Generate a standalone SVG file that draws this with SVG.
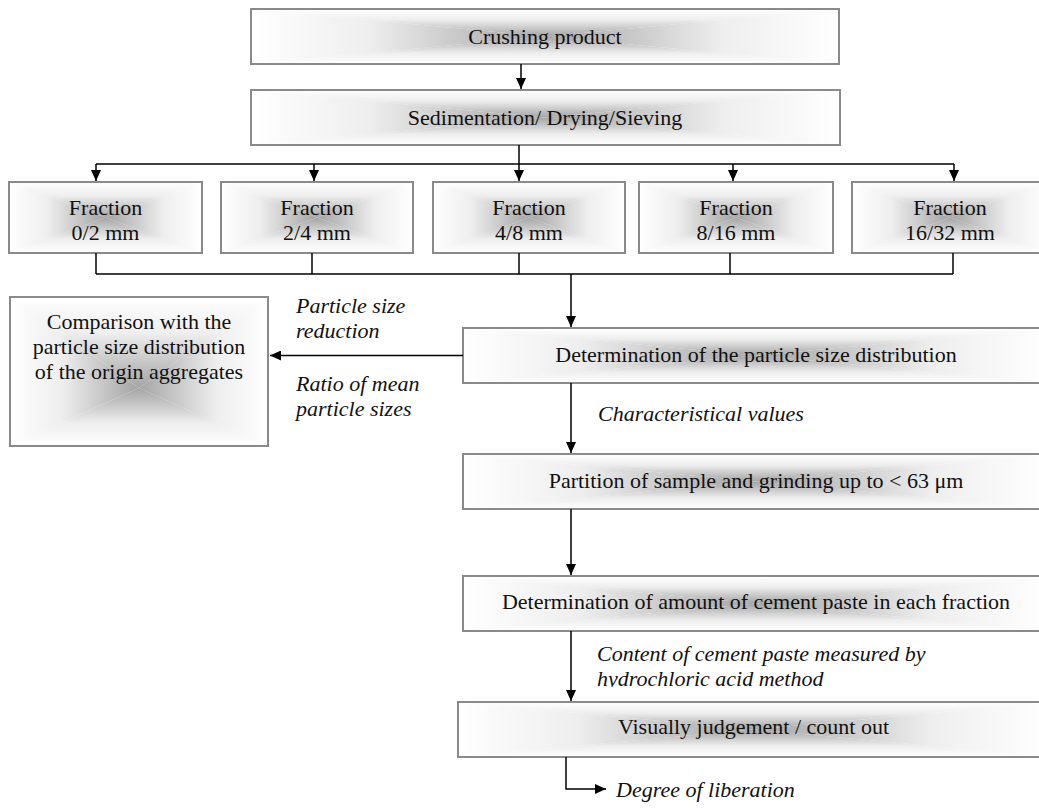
<svg xmlns="http://www.w3.org/2000/svg" width="1039" height="809" viewBox="0 0 1039 809">
  <defs>
    <!-- rectangular "from centre" shading, built from four edge-to-centre wedges -->
    <linearGradient id="gT" x1="0" y1="0" x2="0" y2="1">
      <stop offset="0" stop-color="#ffffff"/>
      <stop offset="0.4" stop-color="#eeeeee"/>
      <stop offset="1" stop-color="#a4a4a4"/>
    </linearGradient>
    <linearGradient id="gB" x1="0" y1="1" x2="0" y2="0">
      <stop offset="0" stop-color="#ffffff"/>
      <stop offset="0.4" stop-color="#eeeeee"/>
      <stop offset="1" stop-color="#a4a4a4"/>
    </linearGradient>
    <linearGradient id="gL" x1="0" y1="0" x2="1" y2="0">
      <stop offset="0" stop-color="#ffffff"/>
      <stop offset="0.4" stop-color="#eeeeee"/>
      <stop offset="1" stop-color="#a4a4a4"/>
    </linearGradient>
    <linearGradient id="gR" x1="1" y1="0" x2="0" y2="0">
      <stop offset="0" stop-color="#ffffff"/>
      <stop offset="0.4" stop-color="#eeeeee"/>
      <stop offset="1" stop-color="#a4a4a4"/>
    </linearGradient>
    <marker id="arrow" viewBox="0 0 11 10" refX="11" refY="5" markerWidth="11" markerHeight="10" markerUnits="userSpaceOnUse" orient="auto">
      <path d="M0,0 L11,5 L0,10 z" fill="#000"/>
    </marker>
    <clipPath id="cutLine">
      <rect x="580" y="660" width="400" height="27"/>
    </clipPath>
  </defs>
  <style>
    .t { fill: url(#gT); stroke: none; }
    .b { fill: url(#gB); stroke: none; }
    .l { fill: url(#gL); stroke: none; }
    .r { fill: url(#gR); stroke: none; }
    .frame { fill: none; stroke: #8a8a8a; stroke-width: 2; }
    .label { font-family: "Liberation Serif", "Times New Roman", serif; font-size: 22px; fill: #111; text-anchor: middle; }
    .note { font-family: "Liberation Serif", "Times New Roman", serif; font-size: 22px; font-style: italic; fill: #111; }
    .wire { fill: none; stroke: #000; stroke-width: 1.5; }
    .wire.head { marker-end: url(#arrow); }
  </style>

  <rect width="1039" height="809" fill="#fff"/>

  <!-- process boxes -->
  <g id="crushing-product">
    <polygon class="t" points="251,9 839,9 545,36.5"/>
    <polygon class="b" points="251,64 839,64 545,36.5"/>
    <polygon class="l" points="251,9 251,64 545,36.5"/>
    <polygon class="r" points="839,9 839,64 545,36.5"/>
    <rect class="frame" x="251" y="9" width="588" height="55"/>
    <text class="label" x="545" y="44">Crushing product</text>
  </g>
  <g id="sedimentation">
    <polygon class="t" points="251,90 840,90 545.5,117.5"/>
    <polygon class="b" points="251,145 840,145 545.5,117.5"/>
    <polygon class="l" points="251,90 251,145 545.5,117.5"/>
    <polygon class="r" points="840,90 840,145 545.5,117.5"/>
    <rect class="frame" x="251" y="90" width="589" height="55"/>
    <text class="label" x="545" y="125">Sedimentation/ Drying/Sieving</text>
  </g>

  <g id="fraction-0-2">
    <polygon class="t" points="9,182 202,182 105.5,217.5"/>
    <polygon class="b" points="9,253 202,253 105.5,217.5"/>
    <polygon class="l" points="9,182 9,253 105.5,217.5"/>
    <polygon class="r" points="202,182 202,253 105.5,217.5"/>
    <rect class="frame" x="9" y="182" width="193" height="71"/>
    <text class="label" x="105.5" y="215">Fraction</text>
    <text class="label" x="105.5" y="240">0/2 mm</text>
  </g>
  <g id="fraction-2-4">
    <polygon class="t" points="221,182 413,182 317,217.5"/>
    <polygon class="b" points="221,253 413,253 317,217.5"/>
    <polygon class="l" points="221,182 221,253 317,217.5"/>
    <polygon class="r" points="413,182 413,253 317,217.5"/>
    <rect class="frame" x="221" y="182" width="192" height="71"/>
    <text class="label" x="317" y="215">Fraction</text>
    <text class="label" x="317" y="240">2/4 mm</text>
  </g>
  <g id="fraction-4-8">
    <polygon class="t" points="433,182 625,182 529,217.5"/>
    <polygon class="b" points="433,253 625,253 529,217.5"/>
    <polygon class="l" points="433,182 433,253 529,217.5"/>
    <polygon class="r" points="625,182 625,253 529,217.5"/>
    <rect class="frame" x="433" y="182" width="192" height="71"/>
    <text class="label" x="529" y="215">Fraction</text>
    <text class="label" x="529" y="240">4/8 mm</text>
  </g>
  <g id="fraction-8-16">
    <polygon class="t" points="639,182 833,182 736,217.5"/>
    <polygon class="b" points="639,253 833,253 736,217.5"/>
    <polygon class="l" points="639,182 639,253 736,217.5"/>
    <polygon class="r" points="833,182 833,253 736,217.5"/>
    <rect class="frame" x="639" y="182" width="194" height="71"/>
    <text class="label" x="736" y="215">Fraction</text>
    <text class="label" x="736" y="240">8/16 mm</text>
  </g>
  <g id="fraction-16-32">
    <polygon class="t" points="852,182 1048,182 950,217.5"/>
    <polygon class="b" points="852,253 1048,253 950,217.5"/>
    <polygon class="l" points="852,182 852,253 950,217.5"/>
    <polygon class="r" points="1048,182 1048,253 950,217.5"/>
    <rect class="frame" x="852" y="182" width="196" height="71"/>
    <text class="label" x="950" y="215">Fraction</text>
    <text class="label" x="950" y="240">16/32 mm</text>
  </g>

  <g id="comparison">
    <polygon class="t" points="10,297 268,297 139,388"/>
    <polygon class="b" points="10,446 268,446 139,388"/>
    <polygon class="l" points="10,297 10,446 139,388"/>
    <polygon class="r" points="268,297 268,446 139,388"/>
    <rect class="frame" x="10" y="297" width="258" height="149"/>
    <text class="label" x="139" y="329">Comparison with the</text>
    <text class="label" x="139" y="354">particle size distribution</text>
    <text class="label" x="139" y="379">of the origin aggregates</text>
  </g>

  <g id="size-distribution">
    <polygon class="t" points="463,328 1049,328 756,355.5"/>
    <polygon class="b" points="463,383 1049,383 756,355.5"/>
    <polygon class="l" points="463,328 463,383 756,355.5"/>
    <polygon class="r" points="1049,328 1049,383 756,355.5"/>
    <rect class="frame" x="463" y="328" width="586" height="55"/>
    <text class="label" x="756" y="362">Determination of the particle size distribution</text>
  </g>
  <g id="partition">
    <polygon class="t" points="463,454 1049,454 756,481.5"/>
    <polygon class="b" points="463,509 1049,509 756,481.5"/>
    <polygon class="l" points="463,454 463,509 756,481.5"/>
    <polygon class="r" points="1049,454 1049,509 756,481.5"/>
    <rect class="frame" x="463" y="454" width="586" height="55"/>
    <text class="label" x="756" y="488">Partition of sample and grinding up to &lt; 63 μm</text>
  </g>
  <g id="cement-paste">
    <polygon class="t" points="463,576 1049,576 756,603.5"/>
    <polygon class="b" points="463,631 1049,631 756,603.5"/>
    <polygon class="l" points="463,576 463,631 756,603.5"/>
    <polygon class="r" points="1049,576 1049,631 756,603.5"/>
    <rect class="frame" x="463" y="576" width="586" height="55"/>
    <text class="label" x="756" y="609">Determination of amount of cement paste in each fraction</text>
  </g>
  <g id="visual-count">
    <polygon class="t" points="458,702 1049,702 753.5,729.5"/>
    <polygon class="b" points="458,757 1049,757 753.5,729.5"/>
    <polygon class="l" points="458,702 458,757 753.5,729.5"/>
    <polygon class="r" points="1049,702 1049,757 753.5,729.5"/>
    <rect class="frame" x="458" y="702" width="591" height="55"/>
    <text class="label" x="753.5" y="734">Visually judgement / count out</text>
  </g>

  <!-- connectors -->
  <g id="connectors">
    <line class="wire head" x1="521" y1="64" x2="521" y2="89"/>
    <line class="wire head" x1="519" y1="145" x2="519" y2="181"/>
    <line class="wire" x1="96" y1="164" x2="954" y2="164"/>
    <line class="wire head" x1="96" y1="164" x2="96" y2="181"/>
    <line class="wire head" x1="314" y1="164" x2="314" y2="181"/>
    <line class="wire head" x1="733" y1="164" x2="733" y2="181"/>
    <line class="wire head" x1="954" y1="164" x2="954" y2="181"/>

    <line class="wire" x1="96" y1="253" x2="96" y2="274"/>
    <line class="wire" x1="312" y1="253" x2="312" y2="274"/>
    <line class="wire" x1="519" y1="253" x2="519" y2="274"/>
    <line class="wire" x1="730" y1="253" x2="730" y2="274"/>
    <line class="wire" x1="953" y1="253" x2="953" y2="274"/>
    <line class="wire" x1="96" y1="274" x2="953" y2="274"/>

    <line class="wire head" x1="571" y1="274" x2="571" y2="327"/>
    <line class="wire head" x1="463" y1="355.5" x2="270" y2="355.5"/>
    <line class="wire head" x1="571" y1="383" x2="571" y2="453"/>
    <line class="wire head" x1="571" y1="509" x2="571" y2="575"/>
    <line class="wire head" x1="571" y1="631" x2="571" y2="701"/>
    <polyline class="wire head" points="566,757 566,789 606,789"/>
  </g>

  <!-- connector notes -->
  <g id="notes">
    <text class="note" x="296" y="313">Particle size</text>
    <text class="note" x="296" y="338">reduction</text>
    <text class="note" x="296" y="391">Ratio of mean</text>
    <text class="note" x="296" y="416">particle sizes</text>
    <text class="note" x="598" y="421">Characteristical values</text>
    <text class="note" x="597" y="661">Content of cement paste measured by</text>
    <text class="note" x="597" y="686" clip-path="url(#cutLine)">hydrochloric acid method</text>
    <text class="note" x="616" y="797">Degree of liberation</text>
  </g>
</svg>
